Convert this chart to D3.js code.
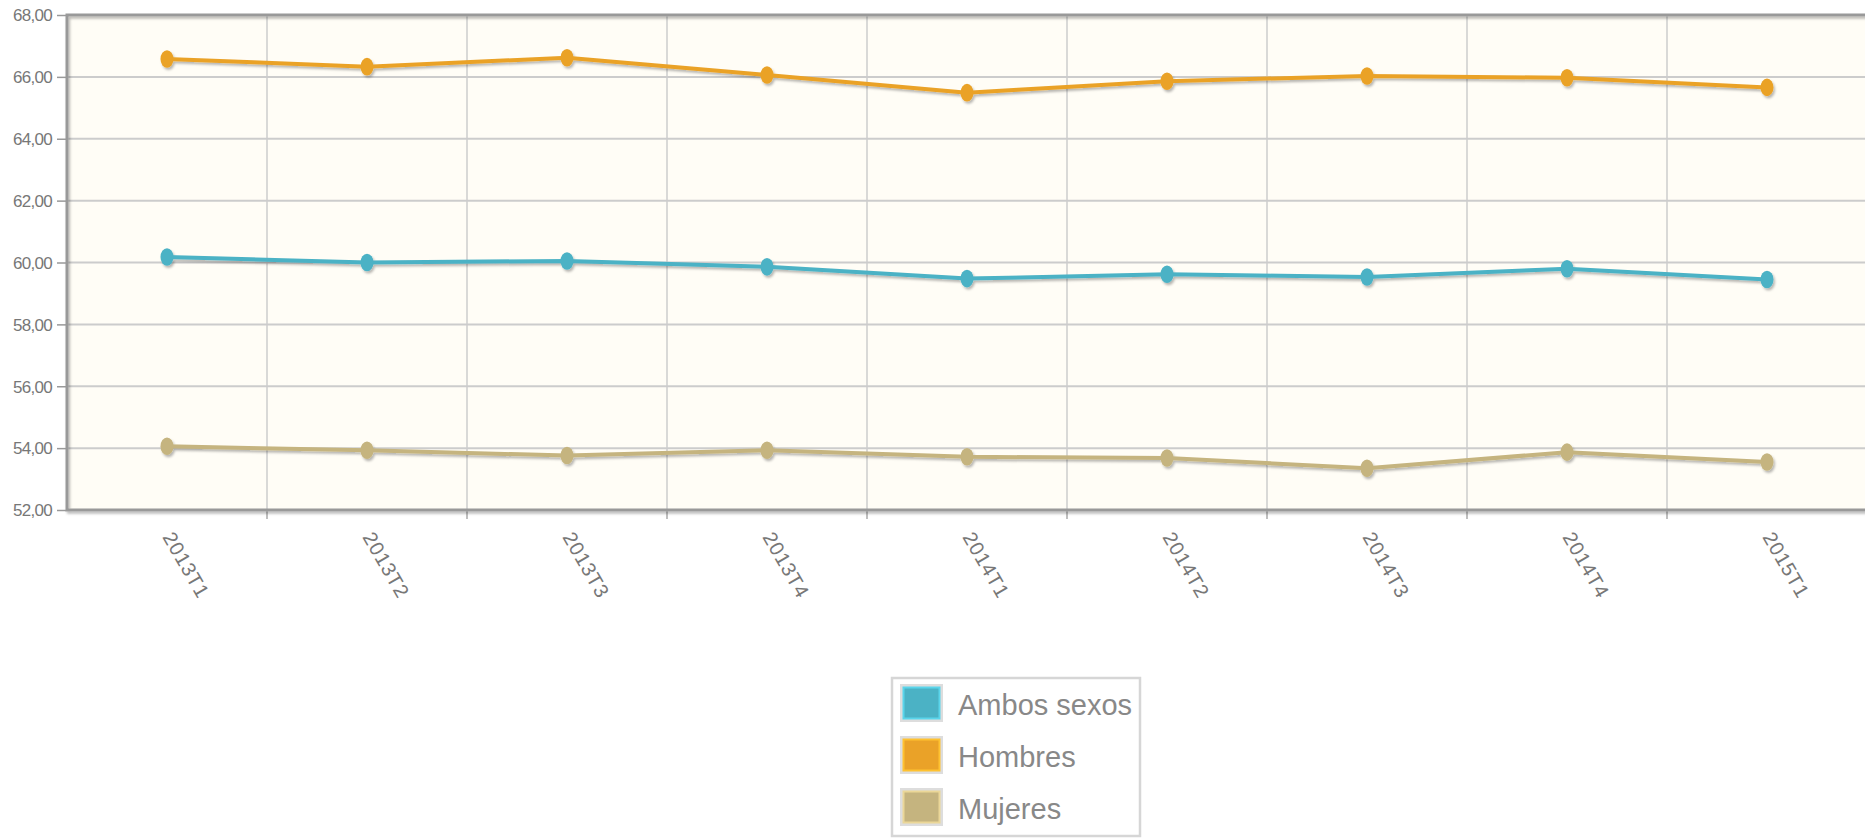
<!DOCTYPE html>
<html>
<head>
<meta charset="utf-8">
<script src="https://cdn.jsdelivr.net/npm/d3@7"></script>
<style>
  html, body { margin: 0; padding: 0; background: #ffffff; }
  svg { display: block; font-family: "Liberation Sans", Arial, sans-serif; }
</style>
</head>
<body>
<svg id="chart" width="1865" height="838"></svg>
<script>
// ---- data ----
const categories = ["2013T1","2013T2","2013T3","2013T4","2014T1","2014T2","2014T3","2014T4","2015T1"];
const seriesNames = ["Ambos sexos","Hombres","Mujeres"];
const ambosSexos = [60.18, 60.00, 60.05, 59.86, 59.48, 59.62, 59.53, 59.80, 59.45];
const hombres    = [66.58, 66.33, 66.62, 66.06, 65.49, 65.86, 66.03, 65.97, 65.66];
const mujeres    = [54.06, 53.93, 53.76, 53.93, 53.72, 53.68, 53.35, 53.87, 53.55];
const yTicks = [52, 54, 56, 58, 60, 62, 64, 66, 68];
const seriesColors = ["#4bb2c5", "#EAA228", "#c5b47f"];

(function () {
const series = [ambosSexos, hombres, mujeres];

const svg = d3.select("#chart");
const defs = svg.append("defs");
const f = defs.append("filter").attr("id","shadow").attr("x","-5%").attr("y","-50%").attr("width","110%").attr("height","200%");
f.append("feDropShadow").attr("dx",1.5).attr("dy",2.2).attr("stdDeviation",1.2)
  .attr("flood-color","#000").attr("flood-opacity",0.28);

const pLeft = 67, pTop = 15, pBottom = 510, pRight = 1867;

const x = d3.scaleBand().domain(categories).range([pLeft, pRight]).padding(0);
const cx = c => x(c) + x.bandwidth() / 2;
const y = d3.scaleLinear().domain([52, 68]).range([pBottom, pTop]);

// background
svg.append("rect").attr("x", pLeft).attr("y", pTop).attr("width", pRight + 20 - pLeft).attr("height", pBottom - pTop)
  .attr("fill", "#fffdf6");

// horizontal grid
svg.append("g").selectAll("line").data(yTicks.filter(v => v > 52 && v < 68)).join("line")
  .attr("x1", pLeft).attr("x2", pRight + 20)
  .attr("y1", d => y(d)).attr("y2", d => y(d))
  .attr("stroke", "#cccccc").attr("stroke-width", 2);

// vertical grid (band boundaries)
svg.append("g").selectAll("line").data(categories.slice(1)).join("line")
  .attr("x1", d => x(d)).attr("x2", d => x(d))
  .attr("y1", pTop).attr("y2", pBottom)
  .attr("stroke", "#cccccc").attr("stroke-width", 1.5);

// x tick marks below axis
svg.append("g").selectAll("line").data(categories.slice(1)).join("line")
  .attr("x1", d => x(d)).attr("x2", d => x(d))
  .attr("y1", pBottom).attr("y2", pBottom + 9)
  .attr("stroke", "#aaaaaa").attr("stroke-width", 1.5);

// border
const border = svg.append("g").attr("filter", "url(#shadow)");
border.append("path")
  .attr("d", `M${pRight + 20},${pTop} L${pLeft},${pTop} L${pLeft},${pBottom} L${pRight + 20},${pBottom}`)
  .attr("fill", "none").attr("stroke", "#999999").attr("stroke-width", 3);

// y axis ticks & labels
const yAxis = d3.axisLeft(y).tickValues(yTicks).tickSize(9).tickPadding(5)
  .tickFormat(d => d3.format(".2f")(d).replace(".", ","));
const gy = svg.append("g").attr("transform", `translate(${pLeft - 1},0)`).call(yAxis);
gy.select(".domain").remove();
gy.selectAll(".tick line").attr("stroke", "#999999").attr("stroke-width", 1.5);
gy.selectAll(".tick text").attr("fill", "#777777").style("font-size", "17px")
  .style("letter-spacing", "-0.7px").attr("dy", "0.34em");

// x labels
svg.append("g").selectAll("text").data(categories).join("text")
  .attr("transform", d => `translate(${cx(d) - 5},${pBottom + 27}) rotate(60)`)
  .attr("fill", "#777777").style("font-size", "20px").style("letter-spacing", "0.8px")
  .text(d => d);

// lines + markers
const line = d3.line().x((d, i) => cx(categories[i])).y(d => y(d));
series.forEach((vals, si) => {
  const g = svg.append("g").attr("filter", "url(#shadow)");
  g.append("path").datum(vals).attr("d", line)
    .attr("fill", "none").attr("stroke", seriesColors[si]).attr("stroke-width", 4)
    .attr("stroke-linejoin", "round");
  g.selectAll("ellipse").data(vals).join("ellipse")
    .attr("cx", (d, i) => cx(categories[i])).attr("cy", d => y(d))
    .attr("rx", 6.5).attr("ry", 8.8).attr("fill", seriesColors[si]);
});

// legend
const lg = svg.append("g");
lg.append("rect").attr("x", 892).attr("y", 678).attr("width", 248).attr("height", 158)
  .attr("fill", "#ffffff").attr("stroke", "#d6d6d6").attr("stroke-width", 2.5);
seriesNames.forEach((name, i) => {
  const yy = 684 + i * 52;
  lg.append("rect").attr("x", 900).attr("y", yy).attr("width", 43).attr("height", 38).attr("fill", "#dddddd");
  lg.append("rect").attr("x", 903.5).attr("y", yy + 3.5).attr("width", 36).attr("height", 31)
    .attr("fill", seriesColors[i]).attr("stroke", d3.color(seriesColors[i]).brighter(0.5)).attr("stroke-width", 2);
  lg.append("text").attr("x", 958).attr("y", yy + 31).attr("fill", "#888888")
    .style("font-size", "29px").text(name);
});
})();
</script>
</body>
</html>
